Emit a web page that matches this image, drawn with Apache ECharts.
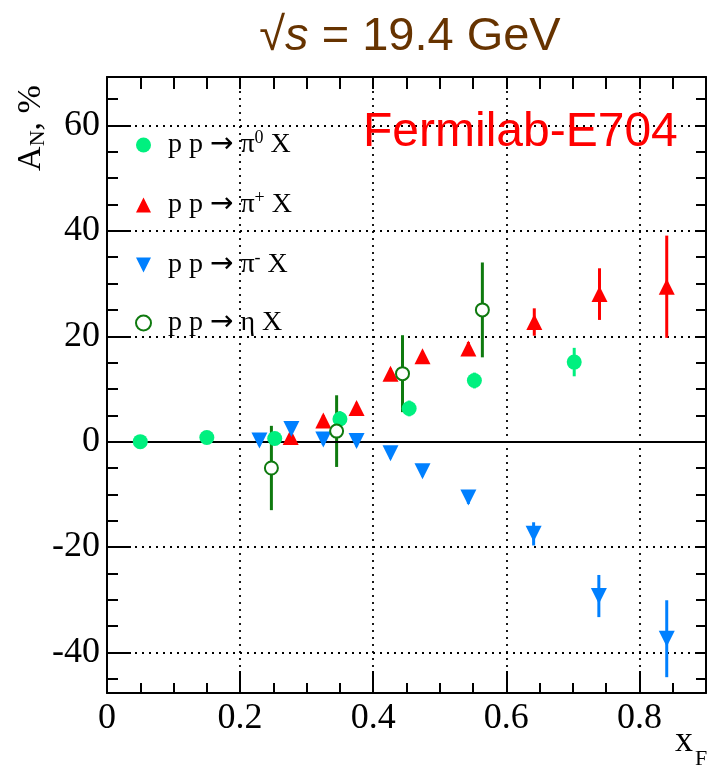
<!DOCTYPE html>
<html><head><meta charset="utf-8">
<script src="https://cdn.jsdelivr.net/npm/echarts@6/dist/echarts.min.js"></script>
<style>html,body{margin:0;padding:0;background:#fff}#c{width:707px;height:766px}</style>
</head><body><div id="c"></div>
<script>
// ---- data ----
const xTickValues = [0, 0.2, 0.4, 0.6, 0.8];
const xTickLabels = ['0', '0.2', '0.4', '0.6', '0.8'];
const yTickValues = [-40, -20, 0, 20, 40, 60];
const yTickLabels = ['-40', '-20', '0', '20', '40', '60'];

const pi0X   = [0.05, 0.15, 0.252, 0.35, 0.454, 0.552, 0.702];
const pi0Y   = [0.0, 0.8, 0.6, 4.3, 6.3, 11.6, 15.1];
const pi0Err = [0.8, 0.8, 1.0, 1.5, 1.5, 1.5, 2.7];

const pipX   = [0.276, 0.325, 0.375, 0.426, 0.474, 0.543, 0.642, 0.740, 0.841];
const pipY   = [0.9, 4.0, 6.4, 12.9, 16.2, 17.7, 22.7, 28.0, 29.4];
const pipErr = [1.0, 1.0, 1.0, 1.0, 1.0, 1.2, 2.6, 4.9, 9.7];

const pimX   = [0.229, 0.277, 0.325, 0.375, 0.426, 0.474, 0.543, 0.641, 0.739, 0.841];
const pimY   = [0.2, 2.4, 0.4, 0.1, -2.2, -5.6, -10.6, -17.5, -29.3, -37.4];
const pimErr = [1.0, 1.0, 1.0, 1.0, 1.0, 1.0, 1.2, 2.2, 4.0, 7.3];

const etaX   = [0.247, 0.345, 0.444, 0.564];
const etaY   = [-5.0, 2.0, 12.9, 25.0];
const etaErr = [8.0, 6.8, 7.3, 9.0];

const seriesNames = ['pi0', 'pip', 'pim', 'eta'];
const legendLabels = {
  pi0: '{g| }{a|p p\u00a0}{r|\u2192}{a|\u00a0\u03c0}{s|0}{a|\u00a0X}',
  pip: '{g| }{a|p p\u00a0}{r|\u2192}{a|\u00a0\u03c0}{s|+}{a|\u00a0X}',
  pim: '{g| }{a|p p\u00a0}{r|\u2192}{a|\u00a0\u03c0}{s|-}{a|\u00a0X}',
  eta: '{g| }{a|p p\u00a0}{r|\u2192}{a|\u00a0\u03b7 X}'
};
const colors = {pi0: '#00f07f', pip: '#ff0000', pim: '#0080ff', eta: '#0f7a0f'};

// ---- build ----
const zip = (xs, ys) => xs.map((x, i) => [x, ys[i]]);
const zip3 = (xs, ys, es) => xs.map((x, i) => [x, ys[i], es[i]]);

function errSeries(xs, ys, es, color) {
  return {
    type: 'custom',
    data: zip3(xs, ys, es),
    encode: {x: 0, y: 1},
    z: 1,
    silent: true,
    renderItem: function (params, api) {
      const x = api.value(0), y = api.value(1), e = api.value(2);
      const p1 = api.coord([x, y - e]);
      const p2 = api.coord([x, y + e]);
      return {type: 'line', shape: {x1: p1[0], y1: p1[1], x2: p2[0], y2: p2[1]},
              style: {stroke: color, lineWidth: 3}};
    }
  };
}

const serif = 'Liberation Serif';
const yMin = -47.7, yMax = 69.2, xMin = 0, xMax = 0.9;

const chart = echarts.init(document.getElementById('c'), null, {renderer: 'canvas'});
const tickLineStyle = {color: '#000', width: 2};
const option = {
  backgroundColor: '#fff',
  animation: false,
  grid: {left: 107, right: 1, top: 77, bottom: 73, show: false},
  xAxis: [{
    type: 'value', min: xMin, max: xMax, interval: 0.2, position: 'bottom',
    axisLine: {show: true, onZero: false, lineStyle: tickLineStyle},
    axisTick: {show: true, inside: true, length: 22, lineStyle: tickLineStyle},
    minorTick: {show: true, splitNumber: 4, length: 10, lineStyle: tickLineStyle},
    axisLabel: {show: true, margin: 8, color: '#000', fontFamily: serif, fontSize: 36,
      showMaxLabel: false,
      formatter: v => { const i = xTickValues.findIndex(t => Math.abs(t - v) < 1e-6); return i >= 0 ? xTickLabels[i] : ''; }},
    splitLine: {show: true, lineStyle: {color: '#000', type: [2, 5], width: 1.8}}
  }, {
    type: 'value', min: xMin, max: xMax, interval: 0.2, position: 'top',
    axisLine: {show: true, onZero: false, lineStyle: tickLineStyle},
    axisTick: {show: true, inside: true, length: 12, lineStyle: tickLineStyle},
    minorTick: {show: true, splitNumber: 4, length: 12, lineStyle: tickLineStyle},
    axisLabel: {show: false}, splitLine: {show: false}
  }],
  yAxis: [{
    type: 'value', min: yMin, max: yMax, minInterval: 20, maxInterval: 20, position: 'left',
    axisLine: {show: true, onZero: false, lineStyle: tickLineStyle},
    axisTick: {show: true, inside: true, length: 24, lineStyle: tickLineStyle},
    minorTick: {show: true, splitNumber: 4, length: 11, lineStyle: tickLineStyle},
    axisLabel: {show: true, margin: 7, color: '#000', fontFamily: serif, fontSize: 36,
      showMinLabel: false, showMaxLabel: false,
      formatter: v => { const i = yTickValues.findIndex(t => Math.abs(t - v) < 1e-6); return i >= 0 ? yTickLabels[i] : ''; }},
    splitLine: {show: true, lineStyle: {color: '#000', type: [2, 5], width: 1.8}}
  }, {
    type: 'value', min: yMin, max: yMax, minInterval: 20, maxInterval: 20, position: 'right',
    axisLine: {show: true, onZero: false, lineStyle: tickLineStyle},
    axisTick: {show: true, inside: true, length: 10, lineStyle: tickLineStyle},
    minorTick: {show: true, splitNumber: 4, length: 10, lineStyle: tickLineStyle},
    axisLabel: {show: false}, splitLine: {show: false}
  }],
  legend: {
    data: seriesNames,
    orient: 'vertical', left: 130, top: 124,
    itemWidth: 15, itemHeight: 15, itemGap: 30,
    formatter: n => legendLabels[n],
    textStyle: {
      color: '#000', fontFamily: serif, fontSize: 28,
      rich: {
        g: {width: 12, fontSize: 28, fontFamily: serif},
        a: {fontSize: 28, fontFamily: serif, color: '#000', lineHeight: 32},
        r: {fontSize: 28, fontFamily: 'DejaVu Sans', color: '#000', lineHeight: 32},
        s: {fontSize: 18, fontFamily: serif, color: '#000', lineHeight: 18, verticalAlign: 'top'}
      }
    }
  },
  graphic: [
    {type: 'text', x: 410, y: 37, z: 100,
     style: {text: '{r|\u221a}{i|s}{r| = 19.4 GeV}', textAlign: 'center', textVerticalAlign: 'middle',
             align: 'center', verticalAlign: 'middle',
             rich: {r: {fontFamily: 'Liberation Sans', fontSize: 47, fill: '#663300', color: '#663300'},
                    i: {fontFamily: 'Liberation Sans', fontSize: 47, fontStyle: 'italic', fill: '#663300', color: '#663300'}}}},
    {type: 'text', x: 363, y: 133, z: 100,
     style: {text: 'Fermilab-E704', fill: '#ff0000', font: '48px "Liberation Sans"',
             textAlign: 'left', textVerticalAlign: 'middle', align: 'left', verticalAlign: 'middle'}},
    {type: 'text', x: 31, y: 128, rotation: Math.PI / 2, z: 100,
     style: {text: '{a|A}{s|N}{a|, %}', textAlign: 'center', textVerticalAlign: 'middle',
             align: 'center', verticalAlign: 'middle',
             rich: {a: {fontFamily: serif, fontSize: 34, fill: '#000', color: '#000', lineHeight: 36},
                    s: {fontFamily: serif, fontSize: 22, fill: '#000', color: '#000', lineHeight: 22, verticalAlign: 'bottom'}}}},
    {type: 'text', x: 684, y: 742, z: 100,
     style: {text: 'x', font: '36px "Liberation Serif"', fill: '#000',
             textAlign: 'center', textVerticalAlign: 'middle', align: 'center', verticalAlign: 'middle'}},
    {type: 'text', x: 701, y: 759, z: 100,
     style: {text: 'F', font: '22px "Liberation Serif"', fill: '#000',
             textAlign: 'center', textVerticalAlign: 'middle', align: 'center', verticalAlign: 'middle'}}
  ],
  series: [
    errSeries(pi0X, pi0Y, pi0Err, colors.pi0),
    errSeries(pipX, pipY, pipErr, colors.pip),
    errSeries(pimX, pimY, pimErr, colors.pim),
    errSeries(etaX, etaY, etaErr, colors.eta),
    {name: 'pi0', type: 'scatter', data: zip(pi0X, pi0Y), symbol: 'circle', symbolSize: 15, z: 5,
     itemStyle: {color: colors.pi0, opacity: 1},
     markLine: {silent: true, symbol: 'none', label: {show: false}, animation: false,
                lineStyle: {color: '#000', type: 'solid', width: 2}, data: [{yAxis: 0}]}},
    {name: 'pip', type: 'scatter', data: zip(pipX, pipY), symbol: 'triangle', symbolSize: 16, z: 5,
     itemStyle: {color: colors.pip, opacity: 1}},
    {name: 'pim', type: 'scatter', data: zip(pimX, pimY), symbol: 'path://M0,0L2,0L1,2Z', symbolSize: 16, z: 5,
     itemStyle: {color: colors.pim, opacity: 1}},
    {name: 'eta', type: 'scatter', data: zip(etaX, etaY), symbol: 'emptyCircle', symbolSize: 13, z: 6,
     itemStyle: {color: colors.eta, borderColor: colors.eta, borderWidth: 3.5, opacity: 1}}
  ]
};
chart.setOption(option);
</script>
</body></html>
